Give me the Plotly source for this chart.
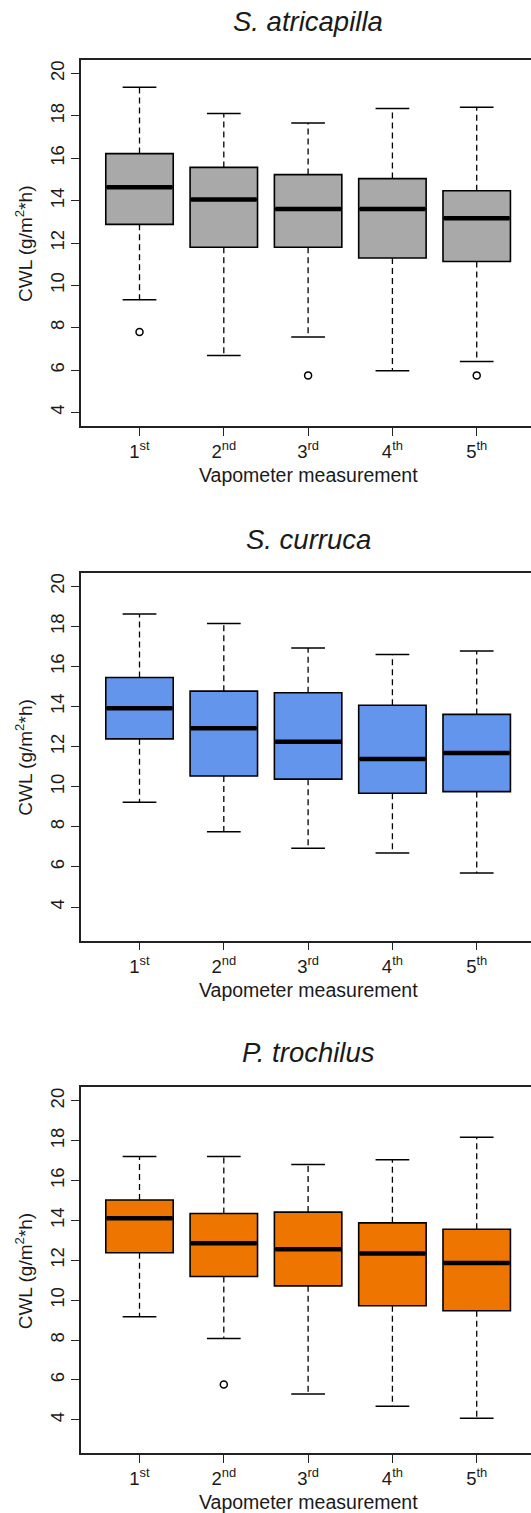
import plotly.graph_objects as go

# ---------------- data ----------------
positions = [1, 2, 3, 4, 5]
tick_labels = ["1<sup>st</sup>", "2<sup>nd</sup>", "3<sup>rd</sup>", "4<sup>th</sup>", "5<sup>th</sup>"]
species = ["S. atricapilla", "S. curruca", "P. trochilus"]
fill_colors = ["#A9A9A9", "#6495ED", "#EE7600"]
x_title = "Vapometer measurement"
y_title = "CWL (g/m<sup>2</sup>*h)"
y_ticks = [4, 6, 8, 10, 12, 14, 16, 18, 20]

atri_lower = [9.32, 6.69, 7.56, 5.97, 6.41]
atri_q1 = [12.88, 11.80, 11.80, 11.29, 11.13]
atri_median = [14.63, 14.05, 13.61, 13.61, 13.17]
atri_q3 = [16.22, 15.57, 15.23, 15.04, 14.47]
atri_upper = [19.35, 18.11, 17.67, 18.35, 18.41]
atri_out_x = [1, 3, 5]
atri_out_y = [7.80, 5.75, 5.75]

curr_lower = [9.23, 7.76, 6.93, 6.70, 5.70]
curr_q1 = [12.39, 10.54, 10.38, 9.68, 9.76]
curr_median = [13.92, 12.92, 12.24, 11.39, 11.69]
curr_q3 = [15.45, 14.77, 14.69, 14.07, 13.61]
curr_upper = [18.62, 18.15, 16.92, 16.60, 16.77]
curr_out_x = []
curr_out_y = []

troc_lower = [9.17, 8.08, 5.30, 4.68, 4.08]
troc_q1 = [12.38, 11.19, 10.72, 9.72, 9.47]
troc_median = [14.11, 12.86, 12.56, 12.34, 11.87]
troc_q3 = [15.03, 14.35, 14.42, 13.88, 13.56]
troc_upper = [17.21, 17.21, 16.81, 17.04, 18.18]
troc_out_x = [2]
troc_out_y = [5.77]

panels = [
    (atri_lower, atri_q1, atri_median, atri_q3, atri_upper, atri_out_x, atri_out_y),
    (curr_lower, curr_q1, curr_median, curr_q3, curr_upper, curr_out_x, curr_out_y),
    (troc_lower, troc_q1, troc_median, troc_q3, troc_upper, troc_out_x, troc_out_y),
]

# ---------------- layout constants ----------------
W, H = 531, 1513
ML = 81
panel_px = [(60, 426), (572.7, 940.7), (1087.3, 1453.3)]   # top, bottom in pixels
y_ranges = [[3.36, 20.64], [2.32, 20.68], [2.32, 20.68]]
x_range = [0.306, 5.644]
title_px = [22, 539.5, 1052]
BOX_HALF = 0.4
CAP_HALF = 0.2
TXT = "#1a1a1a"
FONT = "Liberation Sans, Arial, sans-serif"


def py(px):
    return 1 - px / H


def pxx(px):
    return (px - ML) / (W - ML)


fig = go.Figure()
annotations = []

for i, (lo, q1, med, q3, up, ox, oy) in enumerate(panels):
    xa = "x" if i == 0 else f"x{i+1}"
    ya = "y" if i == 0 else f"y{i+1}"

    # whiskers (dashed)
    wx, wy = [], []
    for p, a, b, c, d in zip(positions, lo, q1, q3, up):
        wx += [p, p, None, p, p, None]
        wy += [c, d, None, b, a, None]
    fig.add_trace(go.Scatter(x=wx, y=wy, mode="lines", xaxis=xa, yaxis=ya,
                             line=dict(color="black", width=1.3, dash="6px,4px"),
                             showlegend=False, hoverinfo="skip"))
    # caps
    cx, cy = [], []
    for p, a, d in zip(positions, lo, up):
        cx += [p - CAP_HALF, p + CAP_HALF, None, p - CAP_HALF, p + CAP_HALF, None]
        cy += [d, d, None, a, a, None]
    fig.add_trace(go.Scatter(x=cx, y=cy, mode="lines", xaxis=xa, yaxis=ya,
                             line=dict(color="black", width=1.5),
                             showlegend=False, hoverinfo="skip"))
    # boxes
    fig.add_trace(go.Box(x=positions, q1=q1, median=med, q3=q3,
                         lowerfence=q1, upperfence=q3, width=2 * BOX_HALF,
                         fillcolor=fill_colors[i], line=dict(color="black", width=1.6),
                         whiskerwidth=0, boxpoints=False, xaxis=xa, yaxis=ya,
                         showlegend=False))
    # thick medians
    mx, my = [], []
    for p, m in zip(positions, med):
        mx += [p - BOX_HALF + 0.01, p + BOX_HALF - 0.01, None]
        my += [m, m, None]
    fig.add_trace(go.Scatter(x=mx, y=my, mode="lines", xaxis=xa, yaxis=ya,
                             line=dict(color="black", width=4.5),
                             showlegend=False, hoverinfo="skip"))
    # outliers
    if ox:
        fig.add_trace(go.Scatter(x=ox, y=oy, mode="markers", xaxis=xa, yaxis=ya,
                                 marker=dict(symbol="circle-open", size=7,
                                             line=dict(color="black", width=1.5),
                                             color="black"),
                                 showlegend=False))

    top, bot = panel_px[i]
    axis_common = dict(showline=True, linecolor="#222", linewidth=1.5,
                       ticks="outside", ticklen=8, tickwidth=1.3, tickcolor="#222",
                       showgrid=False, zeroline=False,
                       tickfont=dict(family=FONT, size=18.5, color=TXT))
    fig.layout[("xaxis" if i == 0 else f"xaxis{i+1}")] = dict(
        **axis_common, domain=[0, 1], range=x_range, anchor=ya, mirror=True,
        tickvals=positions, ticktext=tick_labels)
    fig.layout[("yaxis" if i == 0 else f"yaxis{i+1}")] = dict(
        **axis_common, domain=[py(bot), py(top)], range=y_ranges[i], anchor=xa,
        tickvals=y_ticks, tickangle=-90)

    annotations.append(dict(text=f"<i>{species[i]}</i>", x=pxx(308), y=py(title_px[i]),
                             xref="paper", yref="paper", showarrow=False,
                             xanchor="center", yanchor="middle",
                             font=dict(family=FONT, size=27.5, color=TXT)))
    annotations.append(dict(text=y_title, x=pxx(24), y=py((top + bot) / 2),
                             xref="paper", yref="paper", showarrow=False, textangle=-90,
                             xanchor="center", yanchor="middle",
                             font=dict(family=FONT, size=19, color=TXT)))
    annotations.append(dict(text=x_title, x=pxx(308), y=py(bot + 49),
                             xref="paper", yref="paper", showarrow=False,
                             xanchor="center", yanchor="middle",
                             font=dict(family=FONT, size=19.5, color=TXT)))

fig.update_layout(width=W, height=H, margin=dict(l=ML, r=0, t=0, b=0),
                  plot_bgcolor="white", paper_bgcolor="white",
                  annotations=annotations, showlegend=False)

fig.write_html("out.html")
